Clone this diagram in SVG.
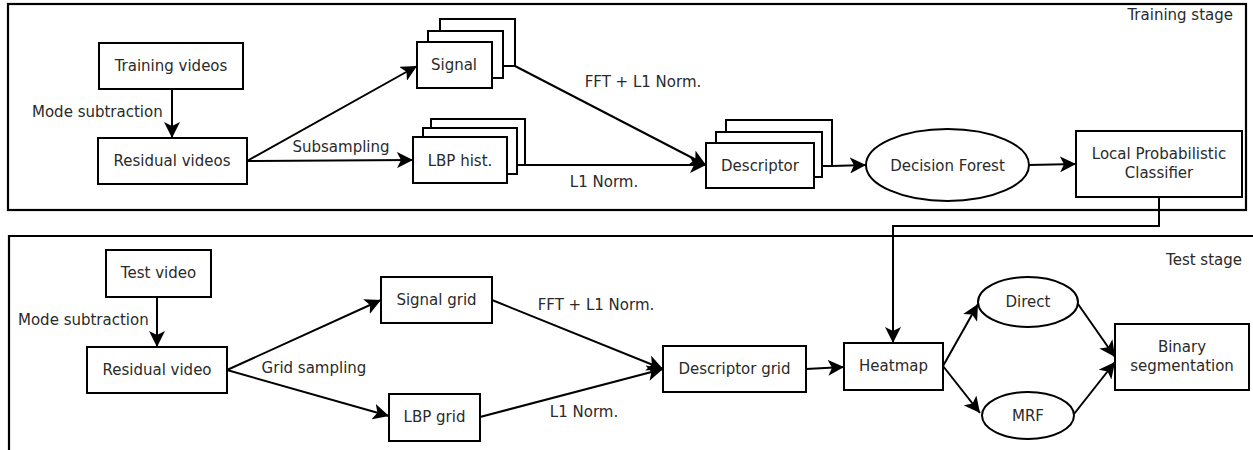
<svg xmlns="http://www.w3.org/2000/svg" width="1253" height="450" viewBox="0 0 1253 450">
  <style>
    .box { fill: #fff; stroke: #000; stroke-width: 2; }
    .panel { fill: none; stroke: #000; stroke-width: 2.2; }
    .edge { fill: none; stroke: #000; stroke-width: 2; }
    .arrow { marker-end: url(#head); }
    text { font-family: "DejaVu Sans", "Liberation Sans", sans-serif; font-size: 15px; fill: #2a2a2a; }
    .c { text-anchor: middle; }
    .r { text-anchor: end; }
  </style>
  <defs>
    <marker id="head" markerWidth="17" markerHeight="16" refX="16" refY="8" orient="auto" markerUnits="userSpaceOnUse">
      <path d="M0,0 L16,8 L0,16 L4,8 z" fill="#000"/>
    </marker>
  </defs>

  <!-- stage frames -->
  <g id="training-stage">
    <rect class="panel" x="8" y="4" width="1238" height="206"/>
    <text class="r" x="1233" y="20">Training stage</text>
  </g>
  <g id="test-stage">
    <path class="panel" d="M9,450 L9,236 L1253,236"/>
    <text class="r" x="1242" y="265">Test stage</text>
  </g>

  <!-- connectors -->
  <g id="connectors">
    <line class="edge arrow" x1="172" y1="89" x2="172" y2="138"/>
    <line class="edge arrow" x1="247" y1="161" x2="417" y2="66"/>
    <line class="edge arrow" x1="247" y1="161" x2="413" y2="160"/>
    <line class="edge arrow" x1="515" y1="66" x2="706" y2="165"/>
    <line class="edge arrow" x1="525" y1="165" x2="706" y2="165"/>
    <line class="edge arrow" x1="832" y1="166" x2="866" y2="165"/>
    <line class="edge arrow" x1="1029" y1="165" x2="1076" y2="164"/>
    <polyline class="edge arrow" points="1159,197 1159,226 893,226 893,343"/>

    <line class="edge arrow" x1="157" y1="297" x2="157" y2="347"/>
    <line class="edge arrow" x1="227" y1="370" x2="381" y2="300"/>
    <line class="edge arrow" x1="227" y1="370" x2="389" y2="416"/>
    <line class="edge arrow" x1="492" y1="300" x2="663" y2="369"/>
    <line class="edge arrow" x1="480" y1="417" x2="663" y2="369"/>
    <line class="edge arrow" x1="806" y1="369" x2="844" y2="367"/>
    <line class="edge arrow" x1="943" y1="366" x2="978" y2="304"/>
    <line class="edge arrow" x1="943" y1="366" x2="980" y2="413"/>
    <line class="edge arrow" x1="1078" y1="304" x2="1115" y2="357"/>
    <line class="edge arrow" x1="1074" y1="414" x2="1115" y2="362"/>

    <text x="32" y="117">Mode subtraction</text>
    <text class="c" x="341" y="152">Subsampling</text>
    <text class="c" x="643" y="87">FFT + L1 Norm.</text>
    <text class="c" x="604" y="187">L1 Norm.</text>
    <text x="18" y="325">Mode subtraction</text>
    <text class="c" x="314" y="373">Grid sampling</text>
    <text class="c" x="596" y="310">FFT + L1 Norm.</text>
    <text class="c" x="584" y="417">L1 Norm.</text>
  </g>

  <!-- training stage nodes -->
  <g id="training-videos">
    <rect class="box" x="99" y="43" width="144" height="46"/>
    <text class="c" x="171" y="71">Training videos</text>
  </g>
  <g id="residual-videos">
    <rect class="box" x="98" y="138" width="149" height="46"/>
    <text class="c" x="172" y="166">Residual videos</text>
  </g>
  <g id="signal">
    <rect class="box" x="440" y="19" width="75" height="47"/>
    <rect class="box" x="428" y="31" width="75" height="47"/>
    <rect class="box" x="417" y="42" width="75" height="46"/>
    <text class="c" x="454" y="70">Signal</text>
  </g>
  <g id="lbp-hist">
    <rect class="box" x="431" y="119" width="94" height="46"/>
    <rect class="box" x="423" y="128" width="94" height="46"/>
    <rect class="box" x="413" y="137" width="94" height="46"/>
    <text class="c" x="460" y="166">LBP hist.</text>
  </g>
  <g id="descriptor">
    <rect class="box" x="726" y="120" width="106" height="46"/>
    <rect class="box" x="716" y="132" width="106" height="45"/>
    <rect class="box" x="706" y="143" width="108" height="45"/>
    <text class="c" x="760" y="171">Descriptor</text>
  </g>
  <g id="decision-forest">
    <ellipse class="box" cx="947.5" cy="165" rx="81.5" ry="36"/>
    <text class="c" x="947.5" y="171">Decision Forest</text>
  </g>
  <g id="local-probabilistic-classifier">
    <rect class="box" x="1076" y="131" width="166" height="66"/>
    <text class="c" x="1159" y="159">Local Probabilistic</text>
    <text class="c" x="1159" y="178">Classifier</text>
  </g>

  <!-- test stage nodes -->
  <g id="test-video">
    <rect class="box" x="106" y="250" width="105" height="47"/>
    <text class="c" x="158.5" y="278">Test video</text>
  </g>
  <g id="residual-video">
    <rect class="box" x="87" y="347" width="140" height="46"/>
    <text class="c" x="157" y="375">Residual video</text>
  </g>
  <g id="signal-grid">
    <rect class="box" x="381" y="277" width="111" height="46"/>
    <text class="c" x="436.5" y="305">Signal grid</text>
  </g>
  <g id="lbp-grid">
    <rect class="box" x="389" y="394" width="91" height="47"/>
    <text class="c" x="434.5" y="422">LBP grid</text>
  </g>
  <g id="descriptor-grid">
    <rect class="box" x="663" y="346" width="143" height="46"/>
    <text class="c" x="734.5" y="374">Descriptor grid</text>
  </g>
  <g id="heatmap">
    <rect class="box" x="844" y="343" width="99" height="47"/>
    <text class="c" x="893.5" y="371">Heatmap</text>
  </g>
  <g id="direct">
    <ellipse class="box" cx="1028" cy="302" rx="50" ry="25"/>
    <text class="c" x="1028" y="307">Direct</text>
  </g>
  <g id="mrf">
    <ellipse class="box" cx="1028" cy="415.5" rx="46" ry="23.5"/>
    <text class="c" x="1028" y="421">MRF</text>
  </g>
  <g id="binary-segmentation">
    <rect class="box" x="1115" y="324" width="134" height="66"/>
    <text class="c" x="1182" y="352">Binary</text>
    <text class="c" x="1182" y="371">segmentation</text>
  </g>
</svg>
